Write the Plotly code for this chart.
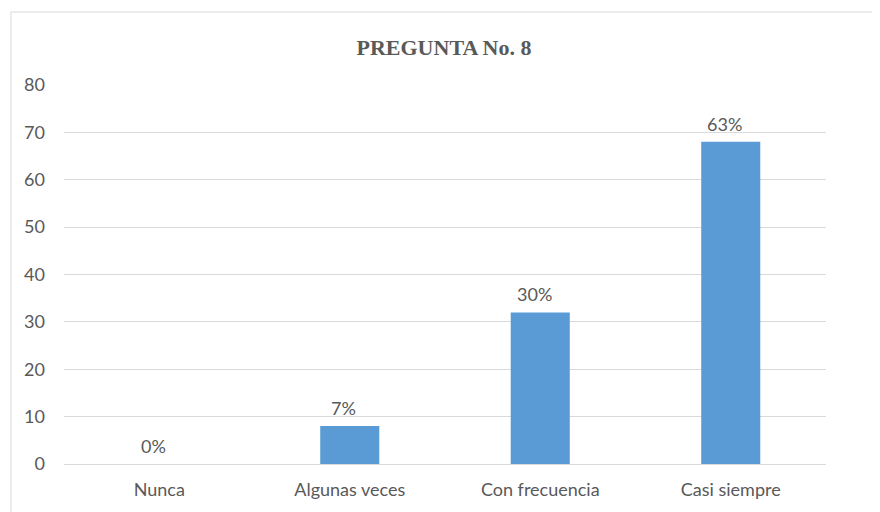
import plotly.graph_objects as go

categories = ["Nunca", "Algunas veces", "Con frecuencia", "Casi siempre"]
values = [0, 8, 32, 68]
labels = ["0%", "7%", "30%", "63%"]
y_ticks = [0, 10, 20, 30, 40, 50, 60, 70, 80]

TEXT = "#595959"
FONT = "Lato"
FS = 18

fig = go.Figure()
fig.add_trace(go.Bar(
    x=categories, y=values,
    marker=dict(color="#5B9BD5", line=dict(width=0)),
    hoverinfo="skip",
))

for c, v, t in zip(categories, values, labels):
    fig.add_annotation(x=c, y=v, text=t, showarrow=False, yanchor="bottom",
                       yshift=5, xshift=-6, font=dict(family=FONT, size=FS, color=TEXT))

fig.add_shape(type="rect", xref="paper", yref="paper",
              x0=-0.0696, x1=1.2, y0=-0.3, y1=1.1926,
              line=dict(color="#D9D9D9", width=1), fillcolor="rgba(0,0,0,0)",
              layer="below")

fig.update_layout(
    width=872, height=504,
    margin=dict(l=56, r=54, t=77, b=48),
    paper_bgcolor="white", plot_bgcolor="white",
    bargap=0.69,
    showlegend=False,
    title=dict(text="<b>PREGUNTA No. 8</b>", x=0.5, xanchor="center",
               y=1 - 39 / 504, yanchor="middle",
               font=dict(family="Liberation Serif", size=22, color=TEXT)),
    font=dict(family=FONT, size=FS, color=TEXT),
    xaxis=dict(showgrid=False, showline=False, zeroline=False, ticks="",
               ticklabelstandoff=13, tickfont=dict(family=FONT, size=FS, color=TEXT)),
    yaxis=dict(range=[0, 80], tickvals=y_ticks, showgrid=True, gridcolor="#D9D9D9",
               gridwidth=1, zeroline=True, zerolinecolor="#D9D9D9", zerolinewidth=1,
               showline=False, ticks="", ticklabelstandoff=18,
               tickfont=dict(family=FONT, size=FS, color=TEXT)),
)

fig.write_html("out.html")
